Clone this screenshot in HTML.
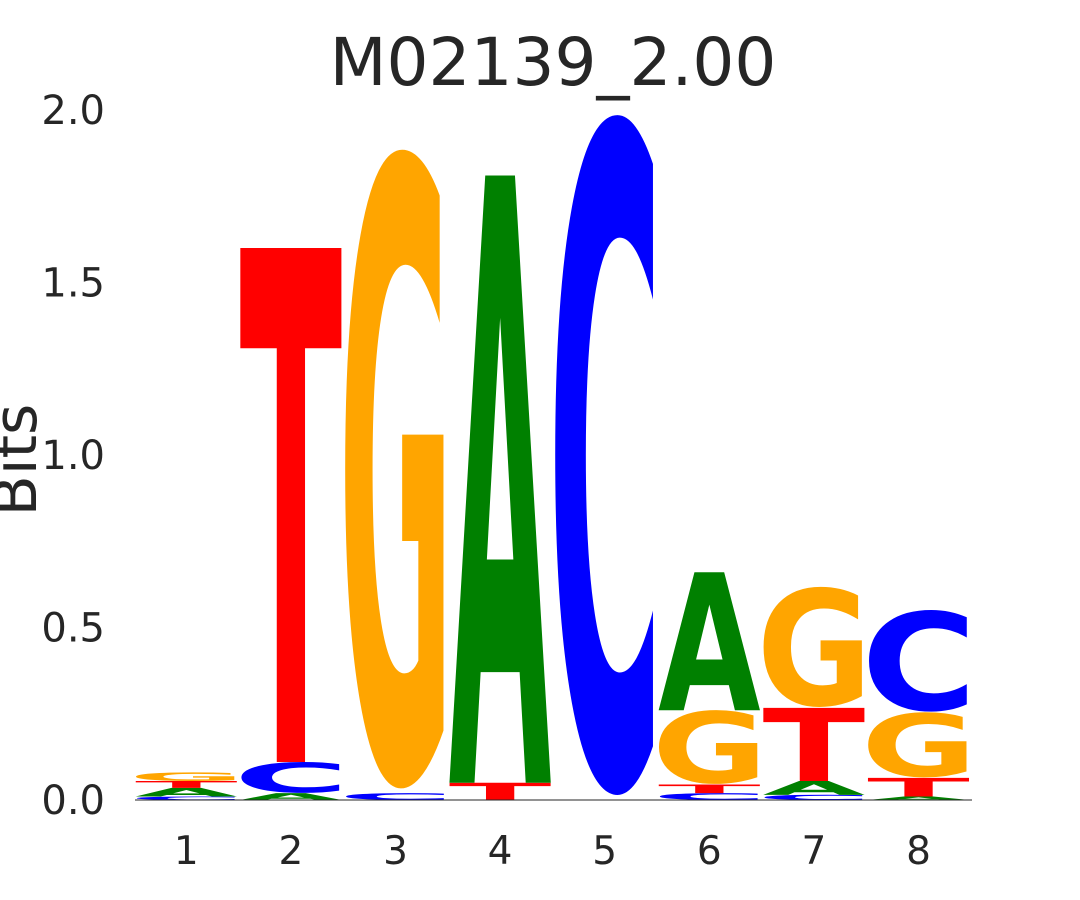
<!DOCTYPE html>
<html><head><meta charset="utf-8"><style>
html,body{margin:0;padding:0;background:#fff;overflow:hidden;width:1080px;height:900px;}
svg{display:block;font-family:"DejaVu Sans","Liberation Sans",sans-serif;}
</style></head><body>
<svg id="chart" width="1080" height="900" viewBox="0 0 1080 900">
<text x="553" y="85" text-anchor="middle" font-size="66" fill="#262626">M02139_2.00</text>
<text transform="translate(36,460) rotate(-90)" text-anchor="middle" font-size="60" fill="#262626">Bits</text>
<g id="yticks"></g>
<g id="xticks"></g>
<g id="letters"></g>
<line x1="135" y1="800" x2="972" y2="800" stroke="#262626" stroke-width="1"/>
</svg>
<script>
const positions = ["1","2","3","4","5","6","7","8"];
const yTickLabels = ["0.0","0.5","1.0","1.5","2.0"];
const yTickValues = [0,0.5,1.0,1.5,2.0];
// stacks bottom to top: [letter, height in bits]
const col1 = [["C",0.01],["A",0.025],["T",0.02],["G",0.025]];
const col2 = [["A",0.02],["C",0.09],["T",1.49]];
const col3 = [["C",0.02],["G",1.86]];
const col4 = [["T",0.05],["A",1.76]];
const col5 = [["C",1.98]];
const col6 = [["C",0.02],["T",0.025],["G",0.215],["A",0.40]];
const col7 = [["C",0.015],["A",0.04],["T",0.212],["G",0.35]];
const col8 = [["A",0.01],["T",0.054],["G",0.19],["C",0.296]];
const columns = [col1,col2,col3,col4,col5,col6,col7,col8];
const colors = {A:"#008000",C:"#0000FF",G:"#FFA500",T:"#FF0000"};

const NS="http://www.w3.org/2000/svg";
const x0=135, colW=104.6, y0=800, pxPerBit=345;
const yScale=v=>y0-v*pxPerBit;
const xLeft=i=>x0+i*colW;

const yt=document.getElementById('yticks');
yTickValues.forEach((v,i)=>{
  const t=document.createElementNS(NS,'text');
  
  
  t.setAttribute('x',105);t.setAttribute('y',yScale(v)+14);
  t.setAttribute('text-anchor','end');t.setAttribute('font-size','40');t.setAttribute('fill','#262626');
  t.textContent=yTickLabels[i];yt.appendChild(t);
});
const xt=document.getElementById('xticks');
positions.forEach((p,i)=>{
  const t=document.createElementNS(NS,'text');
  
  
  t.setAttribute('x',xLeft(i)+colW/2-1);t.setAttribute('y',864);
  t.setAttribute('text-anchor','middle');t.setAttribute('font-size','39');t.setAttribute('fill','#262626');
  t.textContent=p;xt.appendChild(t);
});
const lg=document.getElementById('letters');
columns.forEach((col,i)=>{
  let base=0;
  const w=colW-4, xl=xLeft(i)+1;
  col.forEach(([L,h])=>{
    const bot=yScale(base), hp=h*pxPerBit;
    const round=(L==="C"||L==="G");
    const cap=round?76:72.9;
    const t=document.createElementNS(NS,'text');
    
    
    t.setAttribute('transform','translate('+xl+','+(bot-(round?hp*0.026:0))+') scale(1,'+(hp/cap)+')');
    t.setAttribute('x',round?-w*0.07:-w*0.01);t.setAttribute('y',0);
    t.setAttribute('font-size','100');t.setAttribute('font-weight','bold');
    t.setAttribute('textLength',round?w*1.15:w*1.02);t.setAttribute('lengthAdjust','spacingAndGlyphs');
    t.setAttribute('fill',colors[L]);
    t.textContent=L;lg.appendChild(t);
    base+=h;
  });
});
</script>
</body></html>
